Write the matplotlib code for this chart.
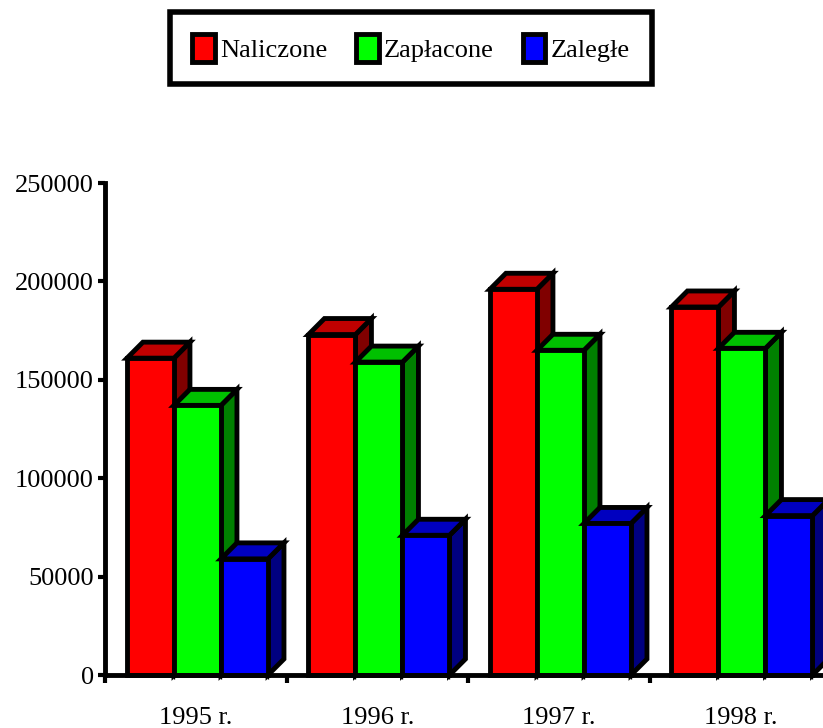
import numpy as np
import matplotlib
matplotlib.use("Agg")
import matplotlib.pyplot as plt
from matplotlib.patches import Polygon, Patch

# data
years = ["1995 r.", "1996 r.", "1997 r.", "1998 r."]
series = ["Naliczone", "Zapłacone", "Zaległe"]
naliczone = [161000, 173000, 196000, 187000]
zaplacone = [137000, 159000, 165000, 166000]
zalegle = [59000, 71000, 77000, 81000]
yticks = [0, 50000, 100000, 150000, 200000, 250000]

front = ["#FF0000", "#00FF00", "#0000FF"]
top = ["#C00000", "#00C000", "#0000C0"]
side = ["#800000", "#008000", "#000080"]

plt.rcParams["font.family"] = ["Liberation Serif", "DejaVu Serif"]
plt.rcParams["font.size"] = 19

fig = plt.figure(figsize=(8.23, 7.28), dpi=100)
ax = fig.add_axes([105 / 823, 53 / 728, 726 / 823, 492 / 728])
ax.set_xlim(0, 4)
ax.set_ylim(0, 250000)

# bar geometry (in data units)
start = 0.121
width = 0.259
dx = 0.088
dy = 8130
lw = 3.5

values = [naliczone, zaplacone, zalegle]
for g in range(len(years)):
    for s in range(len(series)):
        h = values[s][g]
        x0 = g + start + s * width
        x1 = x0 + width
        z = 3 + s * 3
        sd = Polygon([(x1, 0), (x1, h), (x1 + dx, h + dy), (x1 + dx, dy)],
                     closed=True, facecolor=side[s], edgecolor="black",
                     linewidth=lw, joinstyle="miter", zorder=z, clip_on=False)
        tp = Polygon([(x0, h), (x1, h), (x1 + dx, h + dy), (x0 + dx, h + dy)],
                     closed=True, facecolor=top[s], edgecolor="black",
                     linewidth=lw, joinstyle="miter", zorder=z + 1, clip_on=False)
        ax.add_patch(sd)
        ax.add_patch(tp)
        ax.bar(x0, h, width=width, align="edge", color=front[s],
               edgecolor="black", linewidth=lw, zorder=z + 2, clip_on=False)

# axes styling
for sp in ["top", "right"]:
    ax.spines[sp].set_visible(False)
ax.spines["left"].set_linewidth(3.5)
ax.spines["bottom"].set_linewidth(3.5)
ax.spines["left"].set_zorder(20)
ax.spines["bottom"].set_zorder(20)

ax.set_yticks(yticks)
ax.set_yticklabels([str(v) for v in yticks])
ax.tick_params(axis="y", length=5, width=3, pad=3)

ax.set_xticks(range(5))
ax.set_xticklabels([""] * 5)
ax.tick_params(axis="x", length=6, width=3)
minor = [g + start + k * width for g in range(4) for k in range(1, 4)]
ax.set_xticks(minor, minor=True)
ax.tick_params(axis="x", which="minor", length=3, width=1)

for g, lab in enumerate(years):
    ax.text(g + 0.5, -24800, lab, ha="center", va="baseline")

handles = [Patch(facecolor=front[i], edgecolor="black", linewidth=3.5) for i in range(3)]
leg = fig.legend(handles, series, loc="center", bbox_to_anchor=(411 / 823, 1 - 48 / 728),
                 ncol=3, fancybox=False, edgecolor="black", framealpha=1,
                 handlelength=0.85, handleheight=1.25, handletextpad=0.2,
                 columnspacing=1.1, borderpad=0.85, borderaxespad=0)
leg.get_frame().set_linewidth(4)

fig.savefig("out.png", dpi=100)
